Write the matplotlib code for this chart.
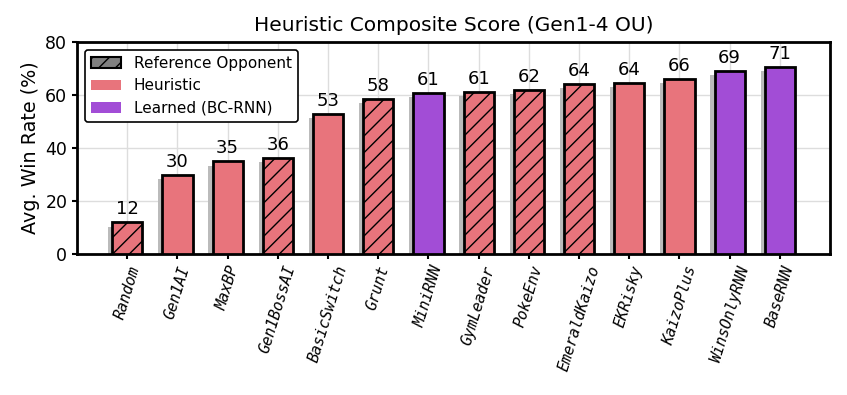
import numpy as np
import matplotlib
matplotlib.use("Agg")
import matplotlib.pyplot as plt
from matplotlib.patches import Patch
from matplotlib.transforms import offset_copy

# agents, win rates and groups
agents = ["Random", "Gen1AI", "MaxBP", "Gen1BossAI", "BasicSwitch", "Grunt",
          "MiniRNN", "GymLeader", "PokeEnv", "EmeraldKaizo", "EKRisky",
          "KaizoPlus", "WinsOnlyRNN", "BaseRNN"]
win_rate = [11.9, 29.8, 34.9, 36.2, 52.8, 58.4, 60.8, 61.0, 61.8, 64.1,
            64.4, 65.9, 69.2, 70.6]
learned = ["MiniRNN", "WinsOnlyRNN", "BaseRNN"]
reference = ["Random", "Gen1BossAI", "Grunt", "GymLeader", "PokeEnv", "EmeraldKaizo"]

heur_color = "#e8747c"
learn_color = "#a24dd6"

plt.rcParams["hatch.linewidth"] = 1.0
fig, ax = plt.subplots(figsize=(8.47, 3.95), dpi=100)
x = np.arange(len(agents))
colors = [learn_color if a in learned else heur_color for a in agents]
hatches = ["//" if a in reference else "" for a in agents]

# soft shadow behind each bar
shadow_tr = offset_copy(ax.transData, fig=fig, x=-3, y=-3, units="points")
ax.bar(x, win_rate, width=0.6, color="#bbbbbb", linewidth=0, zorder=2,
       transform=shadow_tr)

bars = ax.bar(x, win_rate, width=0.6, color=colors, edgecolor="black",
              linewidth=2, zorder=3)
for b, h in zip(bars, hatches):
    b.set_hatch(h)

for xi, v in zip(x, win_rate):
    ax.text(xi, v + 1.5, f"{v:.0f}", ha="center", va="bottom", fontsize=13)

ax.set_xlim(-1.0, 14.0)
ax.set_ylim(0, 80)
ax.set_yticks([0, 20, 40, 60, 80])
ax.tick_params(axis="y", labelsize=12.5, width=1.5)
ax.tick_params(axis="x", width=1.5)
ax.set_xticks(x)
ax.set_xticklabels(agents, rotation=73, fontsize=11, family="DejaVu Sans Mono",
                   style="italic", ha="center")
ax.set_ylabel("Avg. Win Rate (%)", fontsize=13.8)
ax.set_title("Heuristic Composite Score (Gen1-4 OU)", fontsize=14.5, pad=8)
ax.grid(True, color="#dddddd", linewidth=1, zorder=0)
ax.set_axisbelow(True)
for s in ax.spines.values():
    s.set_linewidth(2)

handles = [Patch(facecolor="gray", edgecolor="black", hatch="//", linewidth=1.5,
                 label="Reference Opponent"),
           Patch(facecolor=heur_color, label="Heuristic"),
           Patch(facecolor=learn_color, label="Learned (BC-RNN)")]
leg = ax.legend(handles=handles, loc="upper left", fontsize=11, framealpha=1)
leg.get_frame().set_edgecolor("black")
leg.get_frame().set_linewidth(1.2)

fig.subplots_adjust(left=0.091, right=0.98, top=0.894, bottom=0.357)
fig.savefig("out.png", dpi=100)
